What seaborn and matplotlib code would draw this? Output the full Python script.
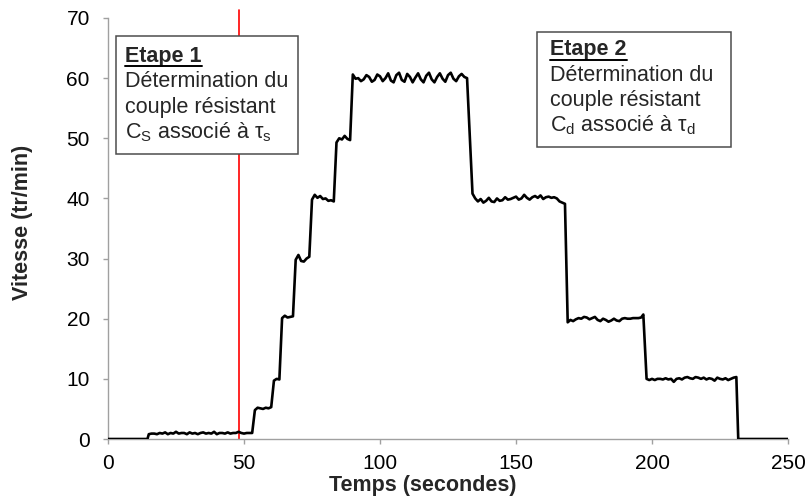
import numpy as np
import matplotlib
matplotlib.use("Agg")
import matplotlib.pyplot as plt
import seaborn as sns
from matplotlib.patches import Rectangle

sns.set_theme(style="ticks")
plt.rcParams["font.family"] = ["Liberation Sans", "DejaVu Sans"]
plt.rcParams["mathtext.fontset"] = "custom"
plt.rcParams["mathtext.rm"] = "Liberation Sans"
plt.rcParams["mathtext.it"] = "Liberation Sans:italic"

# sampling times (s) of the speed record
temps = np.r_[[0, 14.5], np.arange(15, 133), np.arange(134, 197), [196.8],
              np.arange(198, 232), [231.7, 250]]

# speed (tr/min)
vitesse = [0, 0,
           # 15 .. 53
           0.8, 0.9, 0.9, 0.8, 1.0, 0.9, 1.1, 0.8, 1.0, 0.9,
           1.2, 0.9, 1.0, 1.0, 0.8, 1.1, 0.9, 1.0, 0.8, 1.0,
           1.1, 0.9, 1.0, 0.9, 1.2, 0.8, 1.0, 1.0, 0.9, 1.1,
           0.9, 1.0, 1.0, 1.2, 1.0, 0.9, 1.0, 1.0, 1.0,
           # 54 .. 60
           4.8, 5.2, 5.1, 5.0, 5.2, 5.1, 5.3,
           # 61 .. 63
           9.7, 10.0, 9.9,
           # 64 .. 68
           20.1, 20.5, 20.2, 20.3, 20.4,
           # 69 .. 74
           29.8, 30.6, 29.6, 29.5, 30.0, 30.3,
           # 75 .. 83
           39.8, 40.6, 40.1, 40.4, 39.9, 40.0, 39.6, 39.7, 39.5,
           # 84 .. 89
           49.3, 50.0, 49.8, 50.4, 49.9, 49.7,
           # 90 .. 132
           60.6, 59.9, 60.0, 59.5, 59.8, 60.5, 60.2, 59.4, 59.7, 60.6,
           60.3, 59.5, 60.0, 60.8, 59.6, 59.3, 60.5, 60.9, 59.7, 59.4,
           60.7, 60.2, 59.3, 60.1, 60.8, 59.8, 59.3, 60.4, 60.9, 59.8,
           59.3, 60.2, 60.8, 59.9, 59.4, 60.5, 60.9, 59.9, 59.5, 60.3,
           60.7, 60.2, 60.0,
           # 134 .. 168
           40.8, 40.0, 39.5, 39.9, 39.3, 39.6, 40.1, 39.5, 39.4, 40.0,
           39.6, 39.7, 40.2, 39.8, 39.9, 40.1, 40.3, 39.8, 40.0, 40.6,
           40.1, 39.8, 40.2, 40.4, 40.1, 40.5, 39.9, 40.2, 40.3, 40.1,
           40.2, 40.0, 39.5, 39.3, 39.1,
           # 169 .. 196
           19.4, 19.8, 19.6, 19.9, 20.1, 20.0, 20.3, 20.2, 19.9, 20.1,
           20.3, 19.8, 19.6, 20.0, 19.8, 19.5, 19.7, 20.0, 19.7, 19.6,
           20.0, 20.1, 20.0, 20.0, 20.1, 20.1, 20.1, 20.2,
           # 196.8
           20.7,
           # 198 .. 231
           10.0, 9.8, 10.0, 9.8, 10.0, 10.0, 9.9, 10.1, 9.9, 10.0,
           9.5, 10.0, 10.1, 9.9, 10.2, 10.3, 10.1, 10.0, 10.3, 10.2,
           10.0, 10.2, 9.9, 10.1, 10.0, 9.7, 10.2, 10.0, 9.9, 10.1,
           9.8, 10.0, 10.2, 10.3,
           # 231.7, 250
           0, 0]

assert len(temps) == len(vitesse)

t_limite = 48  # red marker between the two stages

etape1_titre = "Etape 1"
etape1_lignes = ["Détermination du", "couple résistant",
                 "C$_\\mathrm{S}$ associé à τ$_\\mathrm{s}$"]
etape2_titre = "Etape 2"
etape2_lignes = ["Détermination du", "couple résistant",
                 "C$_\\mathrm{d}$ associé à τ$_\\mathrm{d}$"]

axis_gray = "#a0a0a0"
fs = 15.5

fig, ax = plt.subplots(figsize=(8.06, 4.97), dpi=100)
fig.subplots_adjust(left=0.134, right=0.9777, bottom=0.1167, top=0.9638)

sns.lineplot(x=temps, y=vitesse, color="black", lw=1.9, estimator=None,
             ax=ax, zorder=3, solid_joinstyle="round")

ax.plot([t_limite, t_limite], [0, 71.3], color="red", lw=1.2,
        clip_on=False, zorder=2)

ax.set_xlim(0, 250)
ax.set_ylim(0, 70)
ax.set_xticks(range(0, 251, 50))
ax.set_yticks(range(0, 71, 10))

sns.despine(ax=ax)
for side in ["left", "bottom"]:
    ax.spines[side].set_color(axis_gray)
    ax.spines[side].set_linewidth(1.0)
ax.tick_params(axis="both", direction="out", length=3.6, width=1.0,
               color=axis_gray, labelsize=15, labelcolor="black")
ax.tick_params(axis="y", pad=9.5)
ax.tick_params(axis="x", pad=7)

ax.set_xlabel("Temps (secondes)", fontsize=fs, fontweight="bold")
ax.set_ylabel("Vitesse (tr/min)", fontsize=fs, fontweight="bold")
ax.xaxis.set_label_coords(0.463, -0.085)
ax.yaxis.set_label_coords(-0.110, 0.515)

# annotation boxes
ax.add_patch(Rectangle((2.94, 47.4), 66.9, 19.6, facecolor="white",
                       edgecolor="#4d4d4d", lw=1.1, clip_on=False, zorder=4))
ax.add_patch(Rectangle((157.7, 48.6), 71.3, 19.1, facecolor="white",
                       edgecolor="#4d4d4d", lw=1.1, clip_on=False, zorder=4))

titres = []
for x0, y0, titre, lignes in [(6.25, 62.75, etape1_titre, etape1_lignes),
                              (162.5, 63.85, etape2_titre, etape2_lignes)]:
    t = ax.text(x0, y0, titre, fontsize=fs, fontweight="bold",
                va="baseline", ha="left", zorder=5)
    titres.append(t)
    for i, ligne in enumerate(lignes):
        ax.text(x0, y0 - 4.25 * (i + 1), ligne, fontsize=fs,
                va="baseline", ha="left", zorder=5)

# underline the stage titles
fig.canvas.draw()
renderer = fig.canvas.get_renderer()
inv = ax.transData.inverted()
for t in titres:
    bb = t.get_window_extent(renderer)
    (xa, _), (xb, _) = inv.transform([(bb.x0, bb.y0), (bb.x1, bb.y0)])
    yb = t.get_position()[1] - 0.8
    ax.plot([xa, xb], [yb, yb], color="black", lw=1.4,
            clip_on=False, zorder=6)

fig.savefig("out.png", dpi=100)
